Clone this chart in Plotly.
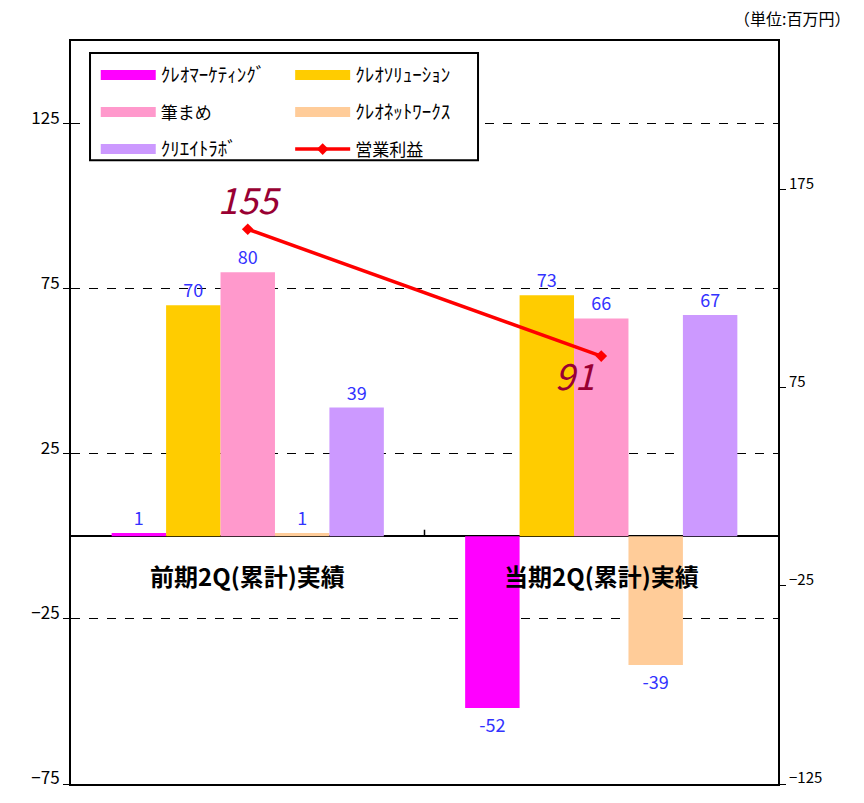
import plotly.graph_objects as go

categories = ["前期2Q(累計)実績", "当期2Q(累計)実績"]
series_names = ["ｸﾚｵﾏｰｹﾃｨﾝｸﾞ", "ｸﾚｵｿﾘｭｰｼｮﾝ", "筆まめ", "ｸﾚｵﾈｯﾄﾜｰｸｽ", "ｸﾘｴｲﾄﾗﾎﾞ"]
series_values = [
    [1, -52],
    [70, 73],
    [80, 66],
    [1, -39],
    [39, 67],
]
series_colors = ["#FF00FF", "#FFCC00", "#FF99CC", "#FFCC99", "#CC99FF"]
profit_name = "営業利益"
profit_values = [155, 91]
unit_label = "（単位:百万円）"

FONT = "Noto Sans CJK JP"

fig = go.Figure()

for name, vals, col in zip(series_names, series_values, series_colors):
    fig.add_trace(go.Bar(
        x=categories, y=vals, name=name, marker=dict(color=col, line=dict(width=0)),
        text=vals, texttemplate="%{text}", textposition="outside",
        textfont=dict(color="#3333FF", size=18, family=FONT),
        cliponaxis=False, showlegend=False,
    ))

# legend proxies (wide swatches like the original)
legend_of = ["legend", "legend2", "legend", "legend2", "legend"]
for name, col, lg in zip(series_names, series_colors, legend_of):
    label = name if name == "筆まめ" else "<span style='font-size:19px'>%s</span>" % name
    fig.add_trace(go.Scatter(
        x=[None], y=[None], mode="lines", name=label,
        line=dict(color=col, width=10), legend=lg, legendgroup=name,
    ))

fig.add_trace(go.Scatter(
    x=categories, y=profit_values, yaxis="y2", name=profit_name,
    mode="lines+markers+text",
    line=dict(color="#FF0000", width=3.5),
    marker=dict(symbol="diamond", size=9, color="#FF0000"),
    text=[str(v) for v in profit_values],
    textposition=["top center", "bottom left"],
    textfont=dict(color="#990033", size=36, family=FONT, style="italic"),
    cliponaxis=False, showlegend=True, legend="legend2", legendgroup="p",
))

legend_font = dict(family=FONT, size=17, color="black")

fig.update_layout(
    width=848, height=787,
    margin=dict(l=63, r=78, t=33, b=6),
    paper_bgcolor="white", plot_bgcolor="white",
    barmode="group", bargap=0.23, bargroupgap=0,
    font=dict(family=FONT, size=16, color="black"),
    xaxis=dict(showticklabels=False, ticks="", showline=True, mirror=True,
               linecolor="black", linewidth=2, showgrid=False),
    yaxis=dict(range=[-75, 150], tick0=-75, dtick=50, ticks="outside", ticklen=6,
               tickcolor="black", showline=True, mirror=True, linecolor="black", linewidth=2,
               showgrid=True, gridcolor="black", griddash="dash", gridwidth=1,
               zeroline=True, zerolinecolor="black", zerolinewidth=2,
               tickfont=dict(size=17), ticklabeloverflow="allow", ticklabelshift=-6),
    yaxis2=dict(range=[-125, 250], tick0=-125, dtick=100, overlaying="y", side="right",
                ticks="outside", ticklen=6, tickcolor="black", showgrid=False,
                zeroline=False, showline=True, linecolor="black", linewidth=2,
                tickfont=dict(size=15), ticklabeloverflow="allow", ticklabelshift=-6),
    legend=dict(x=0.035, y=0.978, xanchor="left", yanchor="top", bgcolor="rgba(0,0,0,0)",
                borderwidth=0, font=legend_font, itemwidth=55, traceorder="grouped",
                tracegroupgap=12, itemclick=False),
    legend2=dict(x=0.31, y=0.978, xanchor="left", yanchor="top", bgcolor="rgba(0,0,0,0)",
                 borderwidth=0, font=legend_font, itemwidth=55, traceorder="grouped",
                 tracegroupgap=12, itemclick=False),
    showlegend=True,
)

# legend frame
fig.add_shape(type="rect", xref="paper", yref="paper", x0=0.0269, x1=0.5757, y0=0.8396, y1=0.984,
              line=dict(color="black", width=2), fillcolor="white", layer="above")
# category divider tick on the zero line
fig.add_shape(type="line", xref="paper", yref="y", x0=0.5, x1=0.5, y0=0, y1=2,
              line=dict(color="black", width=1.5))

for c in categories:
    fig.add_annotation(x=c, y=0, xref="x", yref="y", text="<b>%s</b>" % c, showarrow=False,
                       yanchor="top", yshift=-20, font=dict(size=24, family=FONT, color="black"))

fig.add_annotation(x=1.105, y=1.031, xref="paper", yref="paper", text=unit_label, showarrow=False,
                   xanchor="right", yanchor="middle", font=dict(size=16, family=FONT, color="black"))

fig.write_html("out.html")
